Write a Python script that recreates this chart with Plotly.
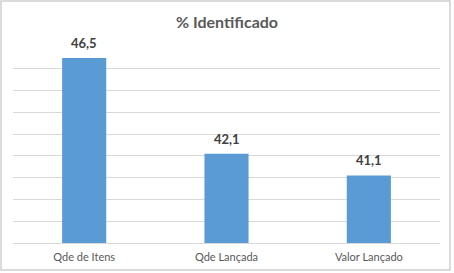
import plotly.graph_objects as go

categories = ["Qde de Itens", "Qde Lançada", "Valor Lançado"]
values = [46.5, 42.1, 41.1]
title_text = "% Identificado"

W, H = 454, 273
ml, mr, mt, mb = 13, 14, 47, 30
pw, ph = W - ml - mr, H - mt - mb
FONT = "Lato, Open Sans, sans-serif"

fig = go.Figure(go.Bar(
    x=categories, y=values,
    marker=dict(color="#5b9bd5", line=dict(width=0)),
    hoverinfo="x+y",
))

for c, v in zip(categories, values):
    fig.add_annotation(x=c, y=v, text="<b>" + f"{v:.1f}".replace(".", ",") + "</b>",
                       showarrow=False, yshift=15, yanchor="middle",
                       font=dict(family=FONT, size=13, color="#404040"))

def px_x(p):
    return (p - ml) / pw

def px_y(p):
    return (H - mb - p) / ph

fig.update_layout(
    width=W, height=H,
    margin=dict(l=ml, r=mr, t=mt, b=mb, autoexpand=False),
    paper_bgcolor="white", plot_bgcolor="white",
    separators=",.",
    bargap=0.69,
    showlegend=False,
    title=dict(text="<b>" + title_text + "</b>", x=0.5, xanchor="center", y=1 - 22 / H, yanchor="middle",
               font=dict(family=FONT, size=16, color="#595959")),
    xaxis=dict(showgrid=False, showline=True, linecolor="#d9d9d9", linewidth=1, ticks="",
               ticklabelstandoff=4,
               tickfont=dict(family=FONT, size=11, color="#595959")),
    yaxis=dict(range=[38, 47], dtick=1, showticklabels=False, showgrid=True, gridcolor="#d9d9d9",
               gridwidth=1, zeroline=False, showline=False, ticks=""),
    shapes=[dict(type="rect", xref="paper", yref="paper",
                 x0=px_x(1), x1=px_x(450), y0=px_y(270), y1=px_y(1),
                 line=dict(color="#d0d0d0", width=1.5), fillcolor="rgba(0,0,0,0)", layer="below")],
)

fig.write_html("out.html")
